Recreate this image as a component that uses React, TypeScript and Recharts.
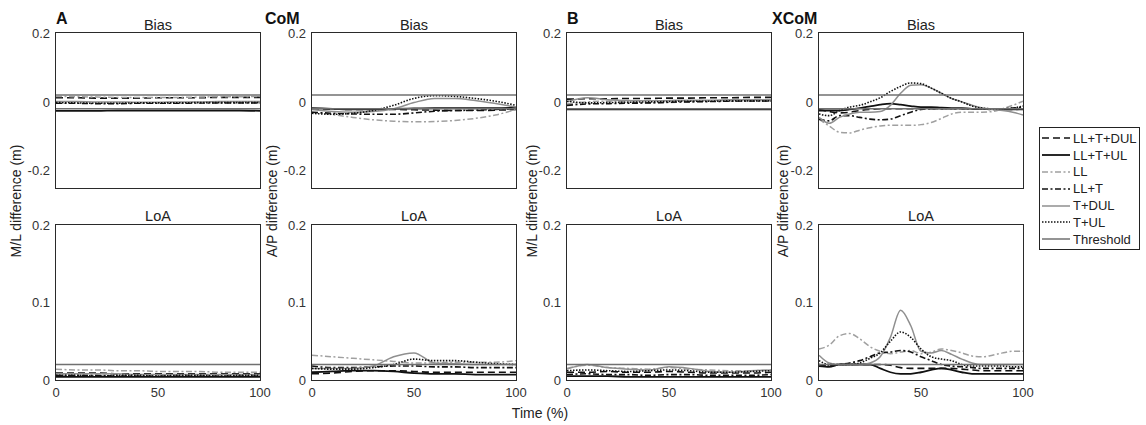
import React from 'react';
import { LineChart, Line, XAxis, YAxis, ReferenceLine } from 'recharts';

const FONT = '"Liberation Sans", Arial, Helvetica, sans-serif';

// series order follows the legend
const seriesKeys = ['lltdul', 'lltul', 'll', 'llt', 'tdul', 'tul'];
const seriesNames = ['LL+T+DUL', 'LL+T+UL', 'LL', 'LL+T', 'T+DUL', 'T+UL'];
const thresholdName = 'Threshold';

const biasThresholds = [0.02, -0.02];
const loaThresholds = [0.02];
const biasTicks = [-0.2, 0, 0.2];
const loaTicks = [0, 0.1, 0.2];
const timeTicks = [0, 50, 100];

const xs10 = [0, 10, 20, 30, 40, 50, 60, 70, 80, 90, 100];
const xs5 = [0, 5, 10, 15, 20, 25, 30, 35, 40, 45, 50, 55, 60, 65, 70, 75, 80, 85, 90, 95, 100];

// A - CoM M/L
const aBiasLltdul = [0.012, 0.012, 0.011, 0.011, 0.011, 0.012, 0.012, 0.012, 0.013, 0.013, 0.013];
const aBiasLltul = [-0.026, -0.026, -0.026, -0.025, -0.025, -0.025, -0.025, -0.025, -0.025, -0.025, -0.026];
const aBiasLl = [0.016, 0.015, 0.014, 0.013, 0.013, 0.013, 0.013, 0.014, 0.015, 0.015, 0.016];
const aBiasLlt = [-0.004, -0.004, -0.005, -0.005, -0.004, -0.004, -0.004, -0.003, -0.003, -0.003, -0.003];
const aBiasTdul = [0.001, 0.001, 0.0, 0.0, -0.001, -0.001, 0.0, 0.0, 0.001, 0.001, 0.001];
const aBiasTul = [-0.002, -0.003, -0.004, -0.004, -0.003, -0.003, -0.003, -0.002, -0.002, -0.002, -0.002];

const aLoaLltdul = [0.009, 0.009, 0.009, 0.008, 0.008, 0.008, 0.008, 0.008, 0.008, 0.008, 0.008];
const aLoaLltul = [0.004, 0.004, 0.004, 0.004, 0.004, 0.004, 0.004, 0.004, 0.004, 0.004, 0.004];
const aLoaLl = [0.014, 0.013, 0.013, 0.012, 0.012, 0.011, 0.011, 0.011, 0.01, 0.01, 0.01];
const aLoaLlt = [0.006, 0.006, 0.006, 0.005, 0.005, 0.005, 0.005, 0.005, 0.005, 0.005, 0.005];
const aLoaTdul = [0.008, 0.008, 0.008, 0.008, 0.007, 0.007, 0.007, 0.007, 0.007, 0.007, 0.007];
const aLoaTul = [0.006, 0.006, 0.005, 0.006, 0.006, 0.005, 0.006, 0.006, 0.005, 0.006, 0.006];

// A - CoM A/P
const comBiasLltdul = [-0.02, -0.021, -0.022, -0.022, -0.022, -0.023, -0.024, -0.025, -0.025, -0.024, -0.022];
const comBiasLltul = [-0.018, -0.02, -0.022, -0.022, -0.02, -0.019, -0.018, -0.018, -0.018, -0.018, -0.017];
const comBiasLl = [-0.03, -0.037, -0.045, -0.052, -0.056, -0.058, -0.057, -0.054, -0.048, -0.038, -0.022];
const comBiasLlt = [-0.03, -0.033, -0.035, -0.036, -0.036, -0.032, -0.027, -0.025, -0.024, -0.022, -0.02];
const comBiasTdul = [-0.022, -0.028, -0.03, -0.028, -0.02, -0.002, 0.01, 0.01, 0.004, -0.005, -0.015];
const comBiasTul = [-0.033, -0.036, -0.033, -0.025, -0.01, 0.01, 0.018, 0.016, 0.01, 0.002, -0.01];

const comLoaLltdul = [0.008, 0.009, 0.011, 0.012, 0.012, 0.011, 0.01, 0.01, 0.01, 0.01, 0.01];
const comLoaLltul = [0.01, 0.011, 0.012, 0.012, 0.011, 0.009, 0.008, 0.008, 0.007, 0.007, 0.007];
const comLoaLl = [0.032, 0.03, 0.028, 0.026, 0.024, 0.022, 0.022, 0.023, 0.023, 0.023, 0.025];
const comLoaLlt = [0.018, 0.016, 0.016, 0.017, 0.018, 0.018, 0.017, 0.017, 0.016, 0.016, 0.016];
const comLoaTdul = [0.015, 0.015, 0.015, 0.018, 0.03, 0.035, 0.022, 0.021, 0.02, 0.02, 0.02];
const comLoaTul = [0.015, 0.014, 0.014, 0.016, 0.02, 0.027, 0.025, 0.025, 0.023, 0.021, 0.02];

// B - XCoM M/L
const bBiasLltdul = [0.008, 0.009, 0.009, 0.01, 0.01, 0.011, 0.011, 0.012, 0.012, 0.013, 0.013];
const bBiasLltul = [-0.022, -0.022, -0.022, -0.022, -0.022, -0.022, -0.022, -0.022, -0.022, -0.022, -0.022];
const bBiasLl = [-0.006, 0.0, 0.002, 0.0, -0.003, -0.002, 0.0, 0.002, 0.003, 0.003, 0.003];
const bBiasLlt = [-0.01, -0.006, -0.005, -0.004, -0.003, -0.001, 0.0, 0.001, 0.002, 0.003, 0.003];
const bBiasTdul = [0.0, 0.012, 0.006, 0.004, 0.003, 0.004, 0.005, 0.005, 0.006, 0.006, 0.006];
const bBiasTul = [0.002, -0.003, -0.002, -0.001, 0.0, 0.001, 0.002, 0.002, 0.003, 0.003, 0.003];

const bLoaLltdul = [0.01, 0.01, 0.011, 0.01, 0.01, 0.011, 0.01, 0.009, 0.009, 0.009, 0.01];
const bLoaLltul = [0.005, 0.005, 0.005, 0.004, 0.004, 0.004, 0.004, 0.004, 0.004, 0.004, 0.004];
const bLoaLl = [0.015, 0.019, 0.016, 0.015, 0.014, 0.016, 0.014, 0.013, 0.012, 0.012, 0.013];
const bLoaLlt = [0.007, 0.008, 0.007, 0.007, 0.006, 0.007, 0.007, 0.006, 0.006, 0.006, 0.007];
const bLoaTdul = [0.014, 0.02, 0.016, 0.014, 0.013, 0.017, 0.015, 0.011, 0.01, 0.012, 0.013];
const bLoaTul = [0.012, 0.013, 0.012, 0.011, 0.012, 0.013, 0.012, 0.01, 0.01, 0.011, 0.012];

// B - XCoM A/P
const xcomBiasLltdul = [-0.022, -0.028, -0.032, -0.03, -0.025, -0.022, -0.02, -0.02, -0.02, -0.02, -0.02, -0.02, -0.02, -0.02, -0.02, -0.02, -0.021, -0.021, -0.022, -0.022, -0.022];
const xcomBiasLltul = [-0.025, -0.025, -0.025, -0.022, -0.018, -0.013, -0.008, -0.005, -0.008, -0.012, -0.015, -0.015, -0.017, -0.018, -0.018, -0.02, -0.02, -0.02, -0.022, -0.022, -0.02];
const xcomBiasLl = [-0.05, -0.07, -0.088, -0.09, -0.082, -0.075, -0.07, -0.068, -0.068, -0.068, -0.066, -0.06, -0.048, -0.035, -0.03, -0.03, -0.03, -0.028, -0.02, -0.01, 0.002];
const xcomBiasLlt = [-0.05, -0.055, -0.04, -0.04, -0.045, -0.05, -0.052, -0.05, -0.04, -0.03, -0.022, -0.02, -0.02, -0.02, -0.02, -0.02, -0.02, -0.022, -0.02, -0.018, -0.015];
const xcomBiasTdul = [-0.045, -0.062, -0.045, -0.035, -0.03, -0.03, -0.028, -0.01, 0.025, 0.048, 0.05, 0.04, 0.025, 0.01, 0.0, -0.01, -0.018, -0.022, -0.025, -0.03, -0.038];
const xcomBiasTul = [-0.035, -0.04, -0.025, -0.015, -0.01, 0.0, 0.012, 0.03, 0.045, 0.055, 0.053, 0.04, 0.025, 0.01, 0.0, -0.012, -0.018, -0.02, -0.02, -0.018, -0.012];

const xcomLoaLltdul = [0.02, 0.018, 0.02, 0.02, 0.02, 0.02, 0.02, 0.019, 0.016, 0.015, 0.015, 0.015, 0.015, 0.015, 0.014, 0.013, 0.012, 0.012, 0.012, 0.012, 0.012];
const xcomLoaLltul = [0.018, 0.017, 0.02, 0.02, 0.02, 0.02, 0.015, 0.01, 0.008, 0.008, 0.01, 0.013, 0.015, 0.013, 0.01, 0.008, 0.008, 0.008, 0.008, 0.008, 0.008];
const xcomLoaLl = [0.04, 0.045, 0.057, 0.06, 0.053, 0.043, 0.037, 0.034, 0.036, 0.038, 0.034, 0.036, 0.04, 0.038, 0.035, 0.031, 0.03, 0.032, 0.035, 0.037, 0.037];
const xcomLoaLlt = [0.02, 0.018, 0.02, 0.022, 0.025, 0.03, 0.035, 0.036, 0.038, 0.036, 0.03, 0.025, 0.02, 0.018, 0.017, 0.016, 0.015, 0.015, 0.015, 0.015, 0.015];
const xcomLoaTdul = [0.032, 0.022, 0.02, 0.02, 0.02, 0.022, 0.03, 0.055, 0.09, 0.07, 0.037, 0.035, 0.038, 0.033, 0.027, 0.022, 0.02, 0.02, 0.02, 0.02, 0.02];
const xcomLoaTul = [0.025, 0.02, 0.02, 0.02, 0.022, 0.028, 0.035, 0.05, 0.062, 0.055, 0.04, 0.03, 0.027, 0.025, 0.02, 0.018, 0.018, 0.018, 0.018, 0.017, 0.017];

const lineStyle: Record<string, { stroke: string; dash?: string; width: number }> = {
  lltdul: { stroke: '#111', dash: '7 4', width: 1.6 },
  lltul: { stroke: '#111', width: 1.8 },
  ll: { stroke: '#a0a0a0', dash: '6 2.5 2 2.5', width: 1.5 },
  llt: { stroke: '#111', dash: '6 2.5 2 2.5', width: 1.6 },
  tdul: { stroke: '#8f8f8f', width: 1.5 },
  tul: { stroke: '#111', dash: '1.5 1.5', width: 1.6 },
  thr: { stroke: '#707070', width: 1.5 },
};

const rowsFrom = (xs: number[], cols: number[][]) =>
  xs.map((x, i) => {
    const row: Record<string, number> = { x };
    seriesKeys.forEach((k, j) => (row[k] = cols[j][i]));
    return row;
  });

const aBiasRows = rowsFrom(xs10, [aBiasLltdul, aBiasLltul, aBiasLl, aBiasLlt, aBiasTdul, aBiasTul]);
const aLoaRows = rowsFrom(xs10, [aLoaLltdul, aLoaLltul, aLoaLl, aLoaLlt, aLoaTdul, aLoaTul]);
const comBiasRows = rowsFrom(xs10, [comBiasLltdul, comBiasLltul, comBiasLl, comBiasLlt, comBiasTdul, comBiasTul]);
const comLoaRows = rowsFrom(xs10, [comLoaLltdul, comLoaLltul, comLoaLl, comLoaLlt, comLoaTdul, comLoaTul]);
const bBiasRows = rowsFrom(xs10, [bBiasLltdul, bBiasLltul, bBiasLl, bBiasLlt, bBiasTdul, bBiasTul]);
const bLoaRows = rowsFrom(xs10, [bLoaLltdul, bLoaLltul, bLoaLl, bLoaLlt, bLoaTdul, bLoaTul]);
const xcomBiasRows = rowsFrom(xs5, [xcomBiasLltdul, xcomBiasLltul, xcomBiasLl, xcomBiasLlt, xcomBiasTdul, xcomBiasTul]);
const xcomLoaRows = rowsFrom(xs5, [xcomLoaLltdul, xcomLoaLltul, xcomLoaLl, xcomLoaLlt, xcomLoaTdul, xcomLoaTul]);

const plotLefts = [56, 312, 567, 819];
const plotTops = [33, 225];
const PW = 204;
const PH = 155;
const AXW = 40;
const MT = 10;
const MR = 12;

const tickStyle = { fontSize: 13, fill: '#333', fontFamily: FONT };

const Panel = ({ col, row, rows }: { col: number; row: number; rows: Record<string, number>[] }) => {
  const x = plotLefts[col];
  const y = plotTops[row];
  const bias = row === 0;
  const showX = row === 1;
  return (
    <>
      <div style={{ position: 'absolute', left: x - AXW, top: y - MT }}>
        <LineChart
          width={AXW + PW + MR}
          height={MT + PH + (showX ? 25 : 10)}
          data={rows}
          margin={{ top: MT, right: MR, left: 0, bottom: showX ? 0 : 10 }}
        >
          <XAxis
            dataKey="x"
            type="number"
            domain={[0, 100]}
            ticks={timeTicks}
            hide={!showX}
            height={25}
            tickLine={false}
            axisLine={false}
            tickSize={5}
            tickMargin={3}
            tick={tickStyle}
            interval={0}
          />
          <YAxis
            type="number"
            domain={bias ? [-0.25, 0.2] : [0, 0.2]}
            ticks={bias ? biasTicks : loaTicks}
            allowDataOverflow
            width={AXW}
            tickLine={false}
            axisLine={false}
            tickSize={4}
            tickMargin={2}
            tick={tickStyle}
            interval={0}
          />
          {seriesKeys.map((k) => (
            <Line
              key={k}
              dataKey={k}
              type="monotone"
              stroke={lineStyle[k].stroke}
              strokeWidth={lineStyle[k].width}
              strokeDasharray={lineStyle[k].dash}
              dot={false}
              activeDot={false}
              isAnimationActive={false}
            />
          ))}
          {(bias ? biasThresholds : loaThresholds).map((v) => (
            <ReferenceLine key={v} y={v} stroke={lineStyle.thr.stroke} strokeWidth={lineStyle.thr.width} />
          ))}
        </LineChart>
      </div>
      <div
        style={{
          position: 'absolute',
          left: x - 1,
          top: y - 1,
          width: PW + 2,
          height: PH + 2,
          border: '1.5px solid #2a2a2a',
          boxSizing: 'border-box',
          pointerEvents: 'none',
        }}
      />
      <div
        style={{
          position: 'absolute',
          left: x,
          width: PW,
          top: bias ? 18 : 209,
          textAlign: 'center',
          fontSize: 14.5,
          lineHeight: '14.5px',
          color: '#222',
        }}
      >
        {bias ? 'Bias' : 'LoA'}
      </div>
    </>
  );
};

const yLabels = [
  { text: 'M/L difference (m)', x: 16 },
  { text: 'A/P difference (m)', x: 272 },
  { text: 'M/L difference (m)', x: 532 },
  { text: 'A/P difference (m)', x: 783 },
];

const panelLetters = [
  { text: 'A', x: 56 },
  { text: 'CoM', x: 265 },
  { text: 'B', x: 567 },
  { text: 'XCoM', x: 772 },
];

const LegendSample = ({ k }: { k: string }) => (
  <svg width={30} height={10} style={{ display: 'block' }}>
    <line
      x1={0}
      x2={28}
      y1={5}
      y2={5}
      stroke={lineStyle[k].stroke}
      strokeWidth={lineStyle[k].width}
      strokeDasharray={lineStyle[k].dash}
    />
  </svg>
);

const App = () => {
  const legendItems = [...seriesKeys.map((k, i) => ({ k, name: seriesNames[i] })), { k: 'thr', name: thresholdName }];
  return (
    <div
      style={{
        position: 'absolute',
        left: 0,
        top: 0,
        width: 1146,
        height: 425,
        background: '#fff',
        fontFamily: FONT,
        color: '#222',
        overflow: 'hidden',
      }}
    >
      <Panel col={0} row={0} rows={aBiasRows} />
      <Panel col={0} row={1} rows={aLoaRows} />
      <Panel col={1} row={0} rows={comBiasRows} />
      <Panel col={1} row={1} rows={comLoaRows} />
      <Panel col={2} row={0} rows={bBiasRows} />
      <Panel col={2} row={1} rows={bLoaRows} />
      <Panel col={3} row={0} rows={xcomBiasRows} />
      <Panel col={3} row={1} rows={xcomLoaRows} />

      {yLabels.map((l, i) => (
        <div
          key={i}
          style={{
            position: 'absolute',
            left: l.x,
            top: 201,
            transform: 'translate(-50%, -50%) rotate(-90deg)',
            whiteSpace: 'nowrap',
            fontSize: 14,
            lineHeight: '14px',
          }}
        >
          {l.text}
        </div>
      ))}

      {panelLetters.map((p) => (
        <div
          key={p.text}
          style={{ position: 'absolute', left: p.x, top: 11, fontSize: 16, lineHeight: '16px', fontWeight: 'bold', color: '#111' }}
        >
          {p.text}
        </div>
      ))}

      <div style={{ position: 'absolute', left: 540, top: 406, transform: 'translateX(-50%)', fontSize: 14, lineHeight: '14px', whiteSpace: 'nowrap' }}>
        Time (%)
      </div>

      <div
        style={{
          position: 'absolute',
          left: 1039,
          top: 127,
          width: 101,
          height: 123,
          border: '1.5px solid #222',
          boxSizing: 'border-box',
          background: '#fff',
          paddingTop: 2,
        }}
      >
        {legendItems.map((it) => (
          <div key={it.k} style={{ display: 'flex', alignItems: 'center', height: 16.8, paddingLeft: 2 }}>
            <LegendSample k={it.k} />
            <span style={{ fontSize: 13, lineHeight: '13px', marginLeft: 1, whiteSpace: 'nowrap' }}>{it.name}</span>
          </div>
        ))}
      </div>
    </div>
  );
};

export default App;
